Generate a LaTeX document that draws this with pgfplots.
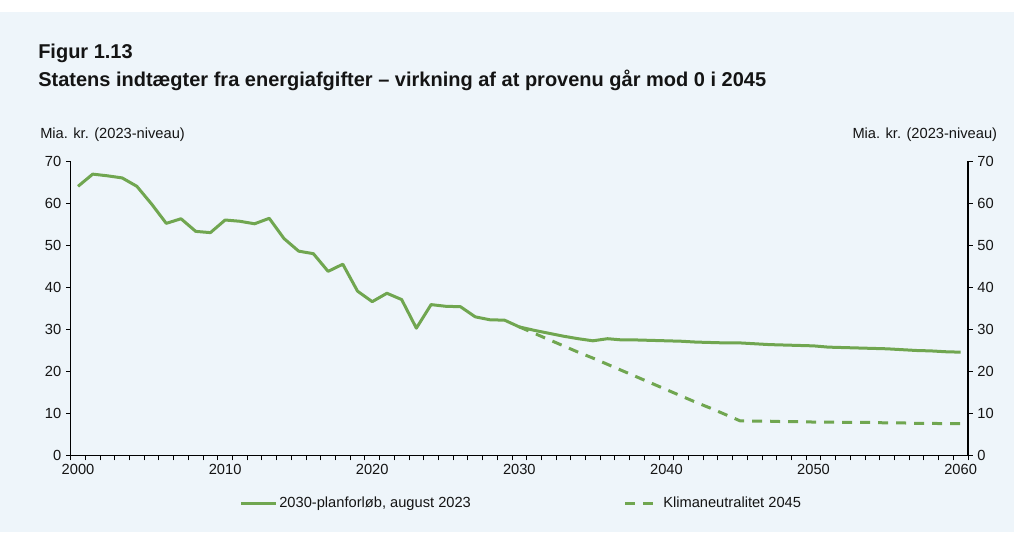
\documentclass[border=0pt]{standalone}
\usepackage{pgfplots}
\pgfplotsset{compat=1.18}
\usepackage{fontspec}
\setmainfont{Liberation Sans}
\definecolor{bgblue}{RGB}{238,245,250}
\definecolor{lgreen}{RGB}{112,166,80}
\definecolor{txt}{RGB}{20,20,20}
\pgfplotstableread{
year val
2000 64.0
2001 66.9
2002 66.5
2003 66.0
2004 64.0
2005 59.8
2006 55.2
2007 56.3
2008 53.3
2009 53.0
2010 56.0
2011 55.7
2012 55.1
2013 56.4
2014 51.6
2015 48.6
2016 48.0
2017 43.8
2018 45.5
2019 39.1
2020 36.6
2021 38.6
2022 37.1
2023 30.3
2024 35.9
2025 35.5
2026 35.4
2027 33.0
2028 32.3
2029 32.2
2030 30.6
2031 29.8
2032 29.1
2033 28.4
2034 27.8
2035 27.3
2036 27.8
2037 27.5
2038 27.5
2039 27.4
2040 27.3
2041 27.2
2042 27.0
2043 26.9
2044 26.8
2045 26.8
2046 26.6
2047 26.4
2048 26.3
2049 26.2
2050 26.1
2051 25.8
2052 25.7
2053 25.6
2054 25.5
2055 25.4
2056 25.2
2057 25.0
2058 24.9
2059 24.7
2060 24.6
}\plantable
\pgfplotstableread{
year val
2030 30.6
2031 29.1
2032 27.6
2033 26.1
2034 24.6
2035 23.2
2036 21.7
2037 20.2
2038 18.7
2039 17.2
2040 15.7
2041 14.2
2042 12.7
2043 11.3
2044 9.8
2045 8.3
2046 8.2
2047 8.2
2048 8.1
2049 8.1
2050 8.0
2051 8.0
2052 7.9
2053 7.9
2054 7.9
2055 7.8
2056 7.8
2057 7.7
2058 7.7
2059 7.6
2060 7.6
}\klimatable
\begin{document}
\begin{tikzpicture}
\fill[white] (0,0) rectangle (760.5pt,399pt);
\fill[bgblue] (0,0) rectangle (760.5pt,390pt);
\node[anchor=base west,inner sep=0pt,font=\fontsize{15}{18}\selectfont\bfseries,text=txt] at (28.5pt,354.75pt) {Figur 1.13};
\node[anchor=base west,inner sep=0pt,font=\fontsize{15}{18}\selectfont\bfseries,text=txt] at (28.5pt,333.75pt) {Statens indtægter fra energiafgifter – virkning af at provenu går mod 0 i 2045};
\node[anchor=base west,inner sep=0pt,font=\fontsize{11}{13}\selectfont,text=txt] at (30pt,295.3pt) {Mia. kr. (2023-niveau)};
\node[anchor=base east,inner sep=0pt,font=\fontsize{11}{13}\selectfont,text=txt] at (748pt,295.3pt) {Mia. kr. (2023-niveau)};
\begin{axis}[
  at={(53.0pt,57.2pt)}, anchor=south west,
  scale only axis, width=673pt, height=221pt,
  xmin=1999.5, xmax=2060.5, ymin=0, ymax=70,
  axis x line*=bottom, axis y line*=left,
  axis line style={black, line width=0.8pt},
  tick align=outside, major tick length=3.5pt,
  tick style={black, line width=0.7pt},
  ytick={0,10,...,70},
  xtick={1999.5,2000.5,...,2060.5},
  xticklabel={\mbox{}},
  extra x ticks={2000,2010,2020,2030,2040,2050,2060},
  extra x tick labels={2000,2010,2020,2030,2040,2050,2060},
  extra x tick style={major tick length=0pt},
  ticklabel style={font=\fontsize{11}{13}\selectfont, text=txt},
  xticklabel style={yshift=-3pt},
  /pgf/number format/assume math mode=true,
  /pgf/number format/1000 sep={},
  legend columns=2,
  legend style={at={(0.188,-0.1606)}, anchor=west, draw=none, fill=none,
    font=\fontsize{11}{13}\selectfont, text=txt, inner sep=0pt,
    nodes={inner sep=1.5pt},
    /tikz/every even column/.append style={column sep=113pt}},
  legend image code/.code={\draw[#1] (0pt,0pt) -- (26pt,0pt);},
  clip=false,
]
\addplot[lgreen, line width=2.25pt, line join=round] table[x=year,y=val] {\plantable};
\addlegendentry{2030-planforløb, august 2023}
\addplot[lgreen, line width=2.25pt, dash pattern=on 7.5pt off 6pt] table[x=year,y=val] {\klimatable};
\addlegendentry{Klimaneutralitet 2045}
\end{axis}
\begin{axis}[
  at={(53.0pt,57.2pt)}, anchor=south west,
  scale only axis, width=673pt, height=221pt,
  xmin=1999.5, xmax=2060.5, ymin=0, ymax=70,
  axis x line=none, axis y line*=right,
  axis line style={black, line width=0.8pt},
  tick align=outside, major tick length=3.5pt,
  tick style={black, line width=0.7pt},
  ytick={0,10,...,70},
  ticklabel style={font=\fontsize{11}{13}\selectfont, text=txt},
  /pgf/number format/assume math mode=true,
]
\addplot[draw=none] coordinates {(2000,0)};
\end{axis}
\end{tikzpicture}
\end{document}
